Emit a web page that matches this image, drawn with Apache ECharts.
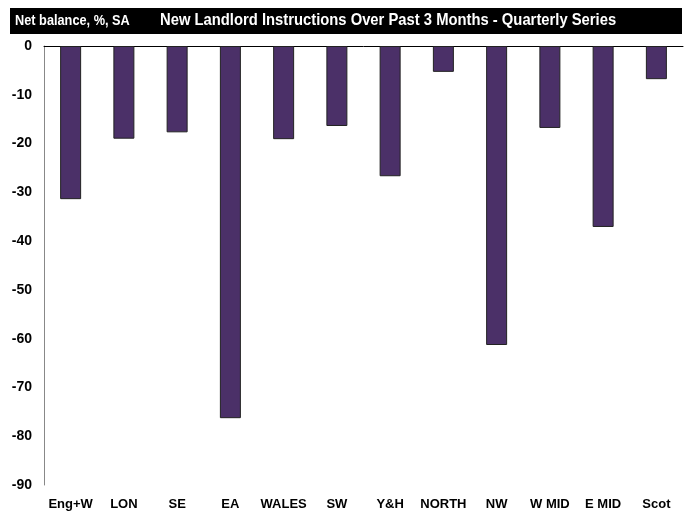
<!DOCTYPE html>
<html>
<head>
<meta charset="utf-8">
<script src="https://cdn.jsdelivr.net/npm/echarts@6/dist/echarts.min.js"></script>
<style>
  html, body { margin: 0; padding: 0; background: #fff; }
  #chart { width: 688px; height: 515px; }
</style>
</head>
<body>
<div id="chart"></div>
<script>
// regions and net balance values (%, SA)
var regions = ['Eng+W', 'LON', 'SE', 'EA', 'WALES', 'SW', 'Y&H', 'NORTH', 'NW', 'W MID', 'E MID', 'Scot'];
var netBalance = [-31.4, -19.0, -17.7, -76.3, -19.1, -16.4, -26.7, -5.3, -61.3, -16.8, -37.1, -6.8];
var yTicks = { min: -90, max: 0, step: 10 };

var font = '"Liberation Sans", Arial, sans-serif';

var chart = echarts.init(document.getElementById('chart'));
var option = {
  animation: false,
  backgroundColor: '#fff',
  graphic: [
    {
      type: 'rect',
      shape: { x: 10, y: 8, width: 672, height: 26 },
      style: { fill: '#000' }
    },
    {
      // no narrow font installed, so squeeze horizontally
      type: 'text',
      x: 15, y: 13, scaleX: 0.85,
      style: { text: 'Net balance, %, SA', fill: '#fff', font: 'bold 15px ' + font }
    },
    {
      type: 'text',
      x: 160, y: 12, scaleX: 0.87,
      style: { text: 'New Landlord Instructions Over Past 3 Months - Quarterly Series', fill: '#fff', font: 'bold 17px ' + font }
    }
  ],
  grid: { left: 44, top: 46, right: 5, bottom: 30 },
  xAxis: [{
    type: 'category',
    data: regions,
    position: 'bottom',
    axisLine: { show: false, onZero: false },
    axisTick: { show: false },
    axisLabel: { interval: 0, color: '#000', fontWeight: 'bold', fontSize: 13, fontFamily: font, margin: 13 }
  }, {
    type: 'category',
    data: regions,
    position: 'top',
    axisLine: { show: true, onZero: false, lineStyle: { color: '#000', width: 1 } },
    axisTick: { show: false },
    axisLabel: { show: false }
  }],
  yAxis: {
    type: 'value',
    min: yTicks.min,
    max: yTicks.max,
    interval: yTicks.step,
    axisLine: { show: true, lineStyle: { color: '#888', width: 1 } },
    axisTick: { show: false },
    splitLine: { show: false },
    axisLabel: { color: '#000', fontWeight: 'bold', fontSize: 14, fontFamily: font, margin: 12 }
  },
  series: [{
    type: 'bar',
    data: netBalance,
    barWidth: 21,
    itemStyle: { color: '#4b3068', borderColor: '#222', borderWidth: 1 }
  }]
};
chart.setOption(option);
</script>
</body>
</html>
